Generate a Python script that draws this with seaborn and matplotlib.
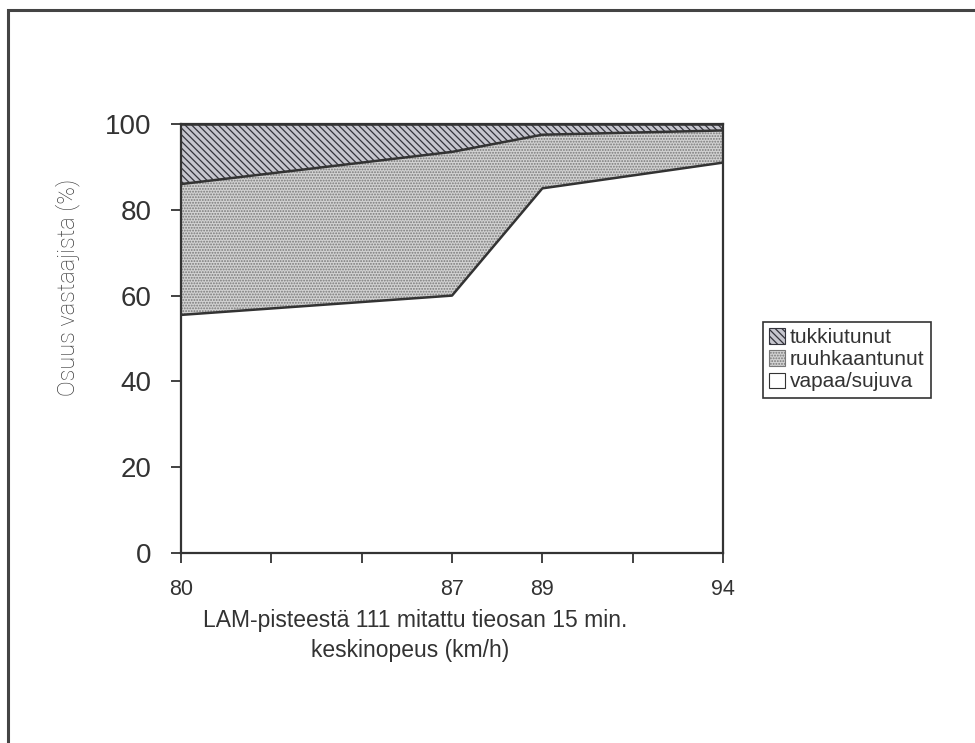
import matplotlib
matplotlib.use("Agg")
import matplotlib.pyplot as plt
from matplotlib.patches import Patch, Rectangle
import numpy as np
import pandas as pd
import seaborn as sns

# Measured average speeds and the slot each one occupies on the category axis
speed_labels = ["80", "", "", "87", "89", "", "94"]
speed_slots = [0, 3, 4, 6]

# Share of respondents (%) per traffic state
vapaa = [55.5, 60.0, 85.0, 91.0]          # vapaa/sujuva
ruuhka = [30.5, 33.5, 12.5, 7.5]          # ruuhkaantunut
tukki = [14.0, 6.5, 2.5, 1.5]             # tukkiutunut

series_names = ["tukkiutunut", "ruuhkaantunut", "vapaa/sujuva"]

sns.set_theme(style="white")
plt.rcParams["font.family"] = ["Liberation Sans", "DejaVu Sans"]
plt.rcParams["hatch.linewidth"] = 0.9

TUKKI_FACE, TUKKI_HATCH = "#c6c6ce", "#34343c"
RUUHKA_FACE, RUUHKA_HATCH = "#d2d2d2", "#787878"

fig = plt.figure(figsize=(9.75, 7.43), dpi=100)
ax = fig.add_axes([181 / 975, 1 - 553 / 743, (723 - 181) / 975, (553 - 124) / 743])

x = np.array(speed_slots, dtype=float)
level1 = np.array(vapaa)
level2 = level1 + np.array(ruuhka)
level3 = level2 + np.array(tukki)

# Stacked areas
ax.fill_between(x, 0, level1, facecolor="white", linewidth=0)
ax.fill_between(x, level1, level2, facecolor=RUUHKA_FACE, edgecolor=RUUHKA_HATCH,
                hatch="......", linewidth=0)
ax.fill_between(x, level2, level3, facecolor=TUKKI_FACE, edgecolor=TUKKI_HATCH,
                hatch="\\\\\\\\\\", linewidth=0)

# Boundary lines of each band
bounds = pd.DataFrame({
    "slot": np.tile(x, 3),
    "value": np.concatenate([level1, level2, level3]),
    "band": np.repeat(["low", "mid", "top"], len(x)),
})
sns.lineplot(data=bounds, x="slot", y="value", units="band", estimator=None,
             color="#333333", linewidth=1.8, ax=ax, legend=False)

ax.set_xlim(0, 6)
ax.set_ylim(0, 100)
ax.set_xticks(range(len(speed_labels)))
ax.set_xticklabels(speed_labels, fontsize=15.5, color="#333333")
ax.set_yticks(range(0, 101, 20))
ax.set_yticklabels([str(v) for v in range(0, 101, 20)], fontsize=20, color="#333333")
ax.tick_params(axis="y", direction="inout", length=14, width=1.3, color="#333333", pad=14, left=True)
ax.tick_params(axis="x", direction="out", length=7, width=1.3, color="#333333", pad=12, bottom=True)
for side in ["left", "bottom", "right", "top"]:
    ax.spines[side].set_visible(True)
    ax.spines[side].set_color("#333333")
    ax.spines[side].set_linewidth(1.6)
ax.set_xlabel("")
ax.set_ylabel("")

# Axis titles
fig.text(68 / 975, 1 - 287 / 743, "Osuus vastaajista (%)", rotation=90,
         ha="center", va="center", fontsize=17, color="#3c3c3c",
         family=["Roboto", "DejaVu Sans"], fontweight="light")
fig.text(415 / 975, 1 - 620 / 743, "LAM-pisteestä 111 mitattu tieosan 15 min.",
         ha="center", va="center", fontsize=16.5, color="#333333")
fig.text(410 / 975, 1 - 650 / 743, "keskinopeus (km/h)",
         ha="center", va="center", fontsize=16.5, color="#333333")

# Legend
handles = [
    Patch(facecolor=TUKKI_FACE, edgecolor=TUKKI_HATCH, hatch="\\\\\\\\\\", linewidth=0.8),
    Patch(facecolor=RUUHKA_FACE, edgecolor=RUUHKA_HATCH, hatch="......", linewidth=0.8),
    Patch(facecolor="white", edgecolor="#333333", linewidth=0.8),
]
leg = fig.legend(handles, series_names, loc="upper left",
                 bbox_to_anchor=(763 / 975, 1 - 322 / 743), fontsize=15,
                 frameon=True, fancybox=False, framealpha=1, edgecolor="#333333",
                 handlelength=0.75, handleheight=0.75, handletextpad=0.25,
                 borderpad=0.3, labelspacing=0.15, borderaxespad=0)
leg.get_frame().set_linewidth(1.2)
for t in leg.get_texts():
    t.set_color("#333333")

# Outer frame of the figure
fig.patches.append(Rectangle((8 / 975, -0.05), 1.2, 1 - 10 / 743 + 0.05,
                             transform=fig.transFigure, fill=False,
                             edgecolor="#444444", linewidth=2.2))

fig.savefig("out.png", dpi=100, facecolor="white")
